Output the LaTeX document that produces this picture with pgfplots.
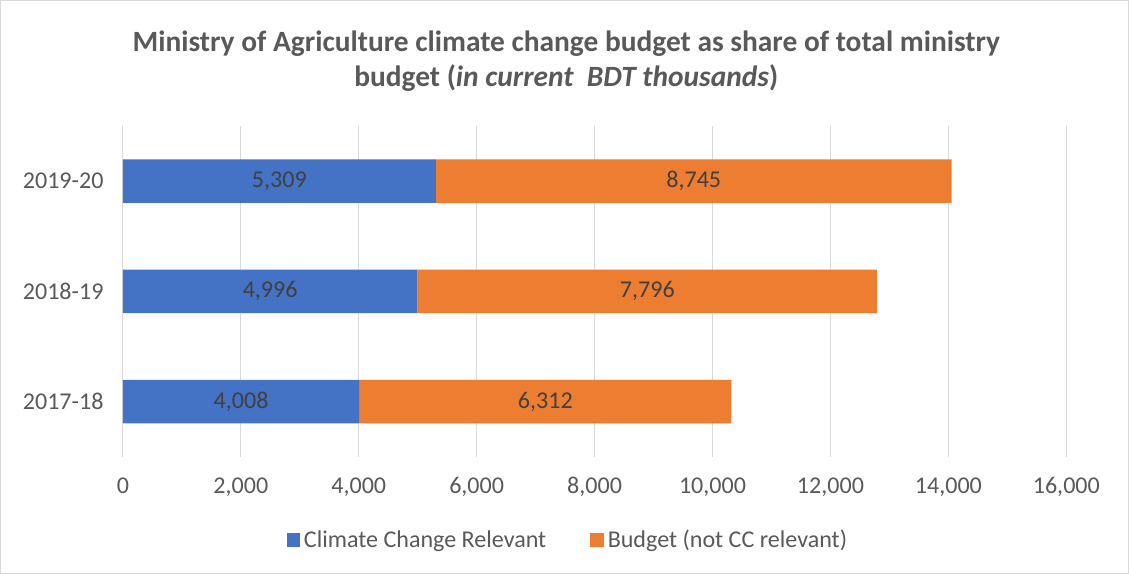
\documentclass[border=0pt]{standalone}
\usepackage{pgfplots}
\pgfplotsset{compat=1.18}
\usepackage{fontspec}
\setmainfont{Carlito}
\definecolor{ccblue}{HTML}{4472C4}
\definecolor{ccorange}{HTML}{ED7D31}
\definecolor{txt}{HTML}{595959}
\definecolor{lbl}{HTML}{404040}
\definecolor{grd}{HTML}{D9D9D9}
\begin{document}
\begin{tikzpicture}
\begin{axis}[
    scale only axis,
    width=705.75pt, height=247.5pt,
    xbar stacked,
    bar width=32.5pt,
    xmin=0, xmax=16000,
    ymin=-0.5, ymax=2.5,
    ytick={0,1,2},
    yticklabels={2017-18,2018-19,2019-20},
    xtick={0,2000,...,16000},
    scaled x ticks=false,
    /pgf/number format/1000 sep={,},
    /pgf/number format/assume math mode=true,
    axis line style={draw=none},
    tick style={draw=none},
    xmajorgrids,
    grid style={grd, line width=0.9pt},
    ticklabel style={font=\fontsize{18}{21}\selectfont, text=txt},
    xticklabel style={yshift=-12pt},
    yticklabel style={xshift=-11pt},
    clip=false,
    point meta=rawx,
    nodes near coords={\pgfmathprintnumber[assume math mode=true]{\pgfplotspointmeta}},
    every node near coord/.append style={
        anchor=center, font=\fontsize{18}{21}\selectfont, text=lbl},
    legend style={
        at={(rel axis cs:0.472,-0.2515)}, anchor=center,
        draw=none, fill=none, legend columns=2,
        font=\fontsize{18}{21}\selectfont, text=txt,
        /tikz/every odd column/.append style={column sep=1pt},
        /tikz/every even column/.append style={column sep=31pt},
    },
    legend image code/.code={\fill[#1] (0pt,-5pt) rectangle (10pt,5pt);},
]
\addplot[fill=ccblue, draw=none] coordinates {(4008,0) (4996,1) (5309,2)};
\addlegendentry{Climate Change Relevant}
\addplot[fill=ccorange, draw=none] coordinates {(6312,0) (7796,1) (8745,2)};
\addlegendentry{Budget (not CC relevant)}

\node[font=\bfseries\fontsize{22}{26}\selectfont, text=txt, align=center]
    at (rel axis cs:0.47,1.195)
    {Ministry of Agriculture climate change budget as share of total ministry\\
     budget (\textit{in current\ \ BDT thousands})};
\draw[grd, line width=0.75pt] (rel axis cs:-0.1297,-0.3515) rectangle (rel axis cs:1.0659,1.379);
\end{axis}
\end{tikzpicture}
\end{document}
